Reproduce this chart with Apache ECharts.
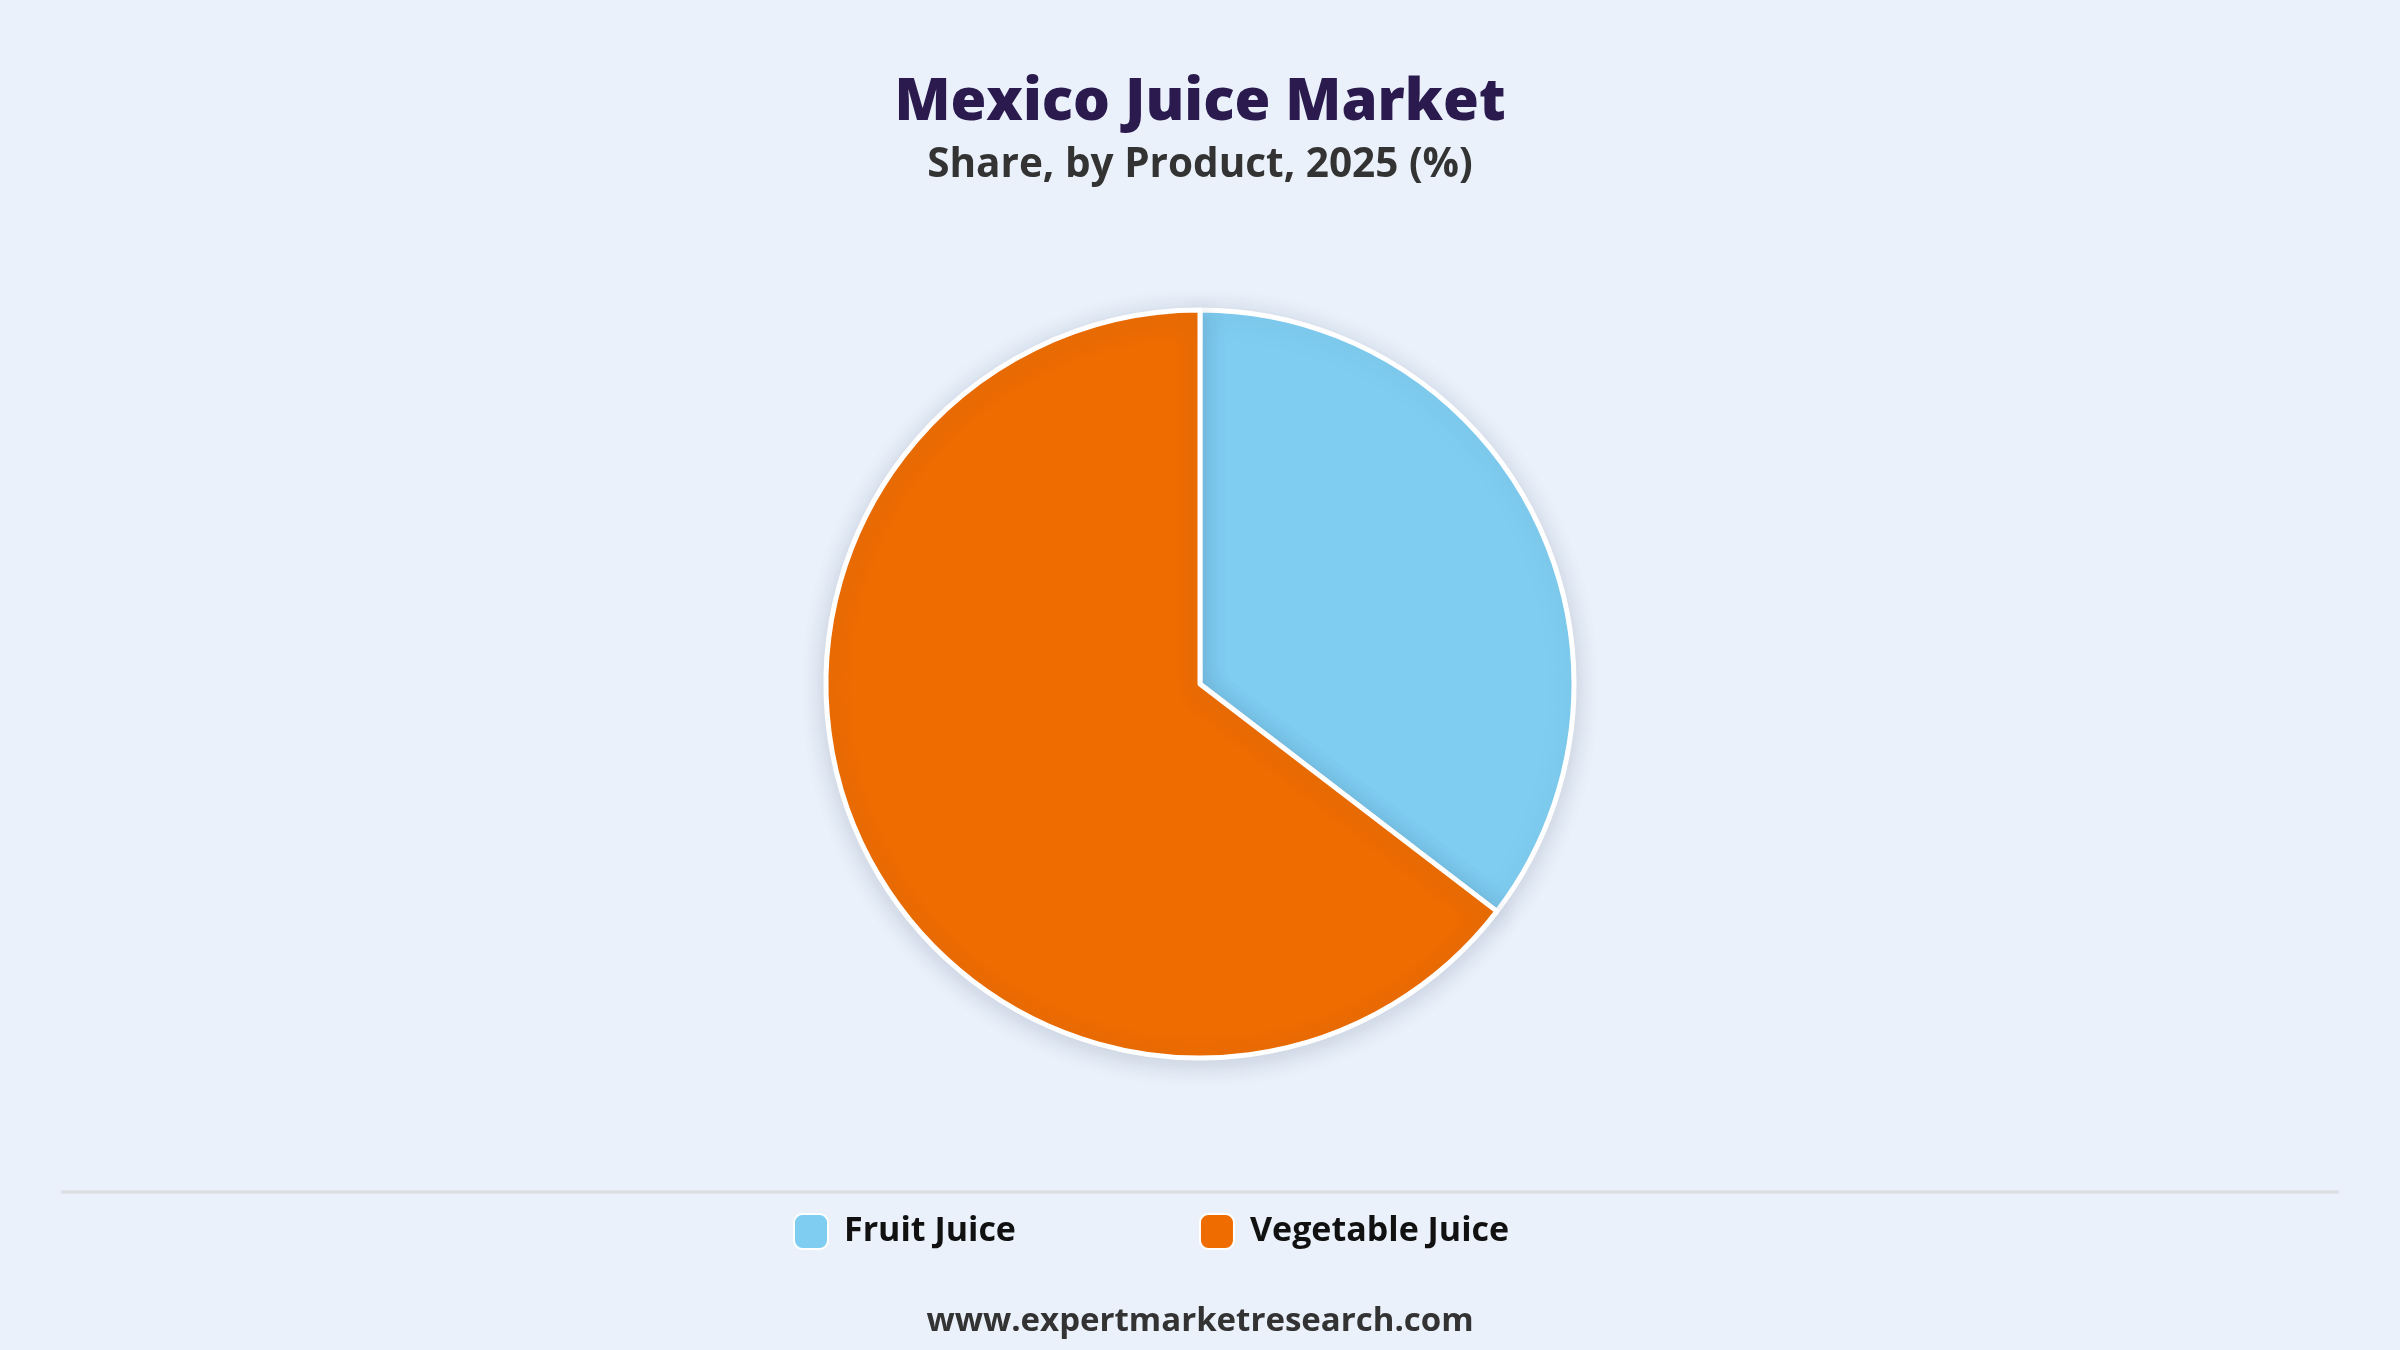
<!DOCTYPE html>
<html>
<head>
    <meta charset="utf-8">
    <title>Mexico Juice Market</title>
    <script src="https://cdn.jsdelivr.net/npm/echarts@6/dist/echarts.min.js"></script>
    <style>
        html, body { margin: 0; padding: 0; background: #EAF1FA; }
        #chart1 { width: 2400px; height: 1350px; }
    </style>
</head>
<body>
<div id="chart1"></div>
<script type="text/javascript">
    // 数据
    var products = ['Fruit Juice', 'Vegetable Juice'];
    var shares = [35.4, 64.6];
    var colors = ['#7FCEF1', '#EE6C00'];

    var font = '"Open Sans", "Noto Sans", sans-serif';

    var myChart1 = echarts.init(document.getElementById('chart1'));

    myChart1.setOption({
        backgroundColor: '#EAF1FA',
        title: [{
            text: 'Mexico Juice Market',
            left: 'center',
            top: 69,
            textStyle: { fontFamily: font, fontSize: 58, fontWeight: 800, color: '#2B1A4E' }
        }, {
            text: 'Share, by Product, 2025 (%)',
            left: 'center',
            top: 140,
            textStyle: { fontFamily: font, fontSize: 40.5, fontWeight: 700, color: '#333333' }
        }, {
            text: 'www.expertmarketresearch.com',
            left: 'center',
            top: 1300,
            textStyle: { fontFamily: font, fontSize: 33, fontWeight: 700, color: '#333333' }
        }],
        legend: {
            data: products,
            left: 793,
            top: 1213,
            padding: 0,
            itemWidth: 34,
            itemHeight: 35,
            itemGap: 183,
            icon: 'roundRect',
            textStyle: { fontFamily: font, fontSize: 34, fontWeight: 700, color: '#111111', padding: [0, 0, 0, 11] }
        },
        graphic: [{
            type: 'line',
            shape: { x1: 61, y1: 1192, x2: 2339, y2: 1192 },
            style: { stroke: '#DCDDE0', lineWidth: 3 }
        }],
        series: [{
            name: 'Share',
            type: 'pie',
            center: [1200, 684],
            radius: 374,
            startAngle: 90,
            clockwise: true,
            label: { show: false },
            labelLine: { show: false },
            emphasis: { disabled: true },
            itemStyle: {
                borderColor: '#FFFFFF',
                borderWidth: 5,
                shadowBlur: 24,
                shadowOffsetY: 4,
                shadowColor: 'rgba(40, 60, 100, 0.18)'
            },
            data: products.map(function (p, i) {
                return { name: p, value: shares[i], itemStyle: { color: colors[i] } };
            })
        }]
    });
</script>
</body>
</html>
